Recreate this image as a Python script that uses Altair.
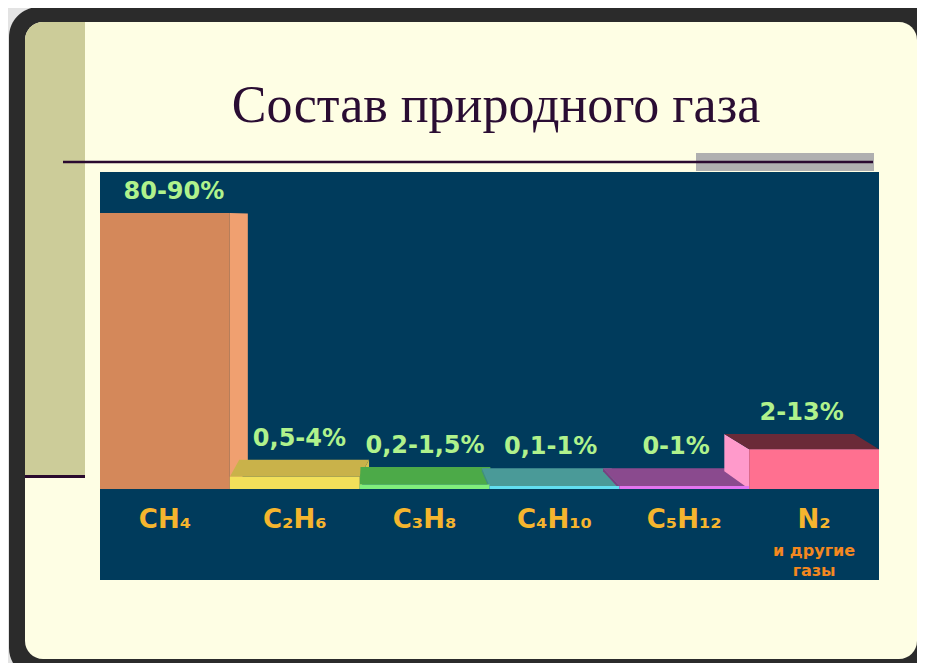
import altair as alt
import pandas as pd

# ---- data ----
formulas = ["CH₄", "C₂H₆", "C₃H₈", "C₄H₁₀", "C₅H₁₂", "N₂"]
ranges = ["80-90%", "0,5-4%", "0,2-1,5%", "0,1-1%", "0-1%", "2-13%"]
heights = [90, 4, 1.5, 1, 1, 13]
note = ["и другие", "газы"]
title = "Состав природного газа"

# ---- style ----
front_colors = ["#d4885a", "#f2e05a", "#80ee7c", "#62def0", "#e274f0", "#ff7090"]
top_colors = ["#e89868", "#c9b24a", "#4caa48", "#4a9a98", "#8a4a8e", "#6a2a38"]
side_colors = ["#f0a070", "#d8c24e", "#3f9a3c", "#3f8a88", "#7a3e80", "#ff9acb"]
VX, VY, DEPTH = 2.6, 88.0, 0.066  # pseudo-3D vanishing point (data units) and depth

W, H = 909, 655
xs = alt.Scale(domain=[0, 6], range=[92, 871], nice=False, zero=False)
ys = alt.Scale(domain=[0, 90], range=[481, 205], nice=False, zero=False)

front_rows, lab_rows = [], []
tops, sides = {}, {}
for i, (f, r, v) in enumerate(zip(formulas, ranges, heights)):
    x0, x1 = i, i + 1
    s = (VX - (i + 0.5)) * DEPTH
    vb = v + (VY - v) * DEPTH
    b0 = VY * DEPTH
    front_rows.append(dict(x0=x0, x1=x1, y0=0, y1=v, col=front_colors[i]))
    lab_rows.append(dict(lx=i + 0.5 + s / 2, ly=max(v, vb), label=r, cx=i + 0.5, formula=f))
    if vb > v:
        tops[i] = pd.DataFrame([dict(y=v, xa=x0, xb=x1), dict(y=vb, xa=x0 + s, xb=x1 + s)])
    if abs(s) > 0.01:
        e = x1 if s > 0 else x0
        sides[i] = pd.DataFrame([dict(x=e, ya=0, yb=v), dict(x=e + s, ya=b0, yb=vb)])

front_df = pd.DataFrame(front_rows)
lab_df = pd.DataFrame(lab_rows)

one = alt.Data(values=[{"k": 1}])


def deco_rect(x, x2, y, y2, color, **kw):
    return alt.Chart(one).mark_rect(color=color, **kw).encode(
        x=alt.value(x), x2=alt.value(x2), y=alt.value(y), y2=alt.value(y2)
    )


layers = [
    deco_rect(1, 935, -1, 670, "#2b2b2b", cornerRadius=30),
    deco_rect(17, 909, 14, 651, "#fefee4", cornerRadius=18),
    deco_rect(17, 77, 14, 467, "#cccc99", cornerRadiusTopLeft=18),
    deco_rect(17, 77, 467, 470, "#2a0a2e"),
    deco_rect(688, 866, 145, 163, "#b0b0b0"),
    alt.Chart(one).mark_rule(color="#2a0a30", strokeWidth=2.5).encode(
        x=alt.value(55), x2=alt.value(865), y=alt.value(154)
    ),
    alt.Chart(one).mark_text(
        text=title, font="Liberation Serif", fontSize=52, color="#2a0d33",
        align="center", baseline="alphabetic"
    ).encode(x=alt.value(488), y=alt.value(114)),
    deco_rect(92, 871, 164, 572, "#003b5c"),
]

for i in range(len(formulas)):
    if i in sides:
        layers.append(
            alt.Chart(sides[i]).mark_area(orient="vertical", color=side_colors[i]).encode(
                x=alt.X("x:Q", scale=xs, axis=None),
                y=alt.Y("ya:Q", scale=ys, axis=None, stack=None),
                y2="yb:Q",
            )
        )
    if i in tops:
        layers.append(
            alt.Chart(tops[i]).mark_area(orient="horizontal", color=top_colors[i]).encode(
                y=alt.Y("y:Q", scale=ys, axis=None),
                x=alt.X("xa:Q", scale=xs, axis=None, stack=None),
                x2="xb:Q",
            )
        )

layers.append(
    alt.Chart(front_df).mark_rect().encode(
        x=alt.X("x0:Q", scale=xs, axis=None),
        x2="x1:Q",
        y=alt.Y("y0:Q", scale=ys, axis=None),
        y2="y1:Q",
        color=alt.Color("col:N", scale=None),
    )
)

layers.append(
    alt.Chart(lab_df).mark_text(
        font="DejaVu Sans", fontWeight="bold", fontSize=24, color="#b0f28c",
        dy=-14, baseline="alphabetic", align="center"
    ).encode(
        x=alt.X("lx:Q", scale=xs, axis=None),
        y=alt.Y("ly:Q", scale=ys, axis=None),
        text="label:N",
    )
)

layers.append(
    alt.Chart(lab_df).mark_text(
        font="DejaVu Sans", fontWeight="bold", fontSize=26, color="#f5b52e",
        baseline="alphabetic", align="center"
    ).encode(
        x=alt.X("cx:Q", scale=xs, axis=None),
        y=alt.value(520),
        text="formula:N",
    )
)

layers.append(
    alt.Chart(pd.DataFrame({"cx": [len(formulas) - 0.5], "t": ["\n".join(note)]})).mark_text(
        font="DejaVu Sans", fontWeight="bold", fontSize=16, color="#f4881f",
        baseline="alphabetic", align="center", lineBreak="\n", lineHeight=20
    ).encode(
        x=alt.X("cx:Q", scale=xs, axis=None),
        y=alt.value(548),
        text="t:N",
    )
)

chart = alt.layer(*layers).properties(
    width=W, height=H, autosize=alt.AutoSizeParams(type="none"), padding=0,
    background="#e3e3e3",
).configure_view(stroke=None)

chart.save("out.html", embed_options={"renderer": "svg", "actions": False})
